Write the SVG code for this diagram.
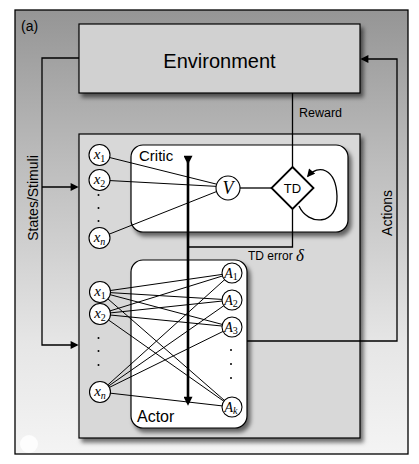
<svg xmlns="http://www.w3.org/2000/svg" width="419" height="464" viewBox="0 0 419 464">
<style>
.sans{font-family:"Liberation Sans",Arial,sans-serif;fill:#000}
.math{font-family:"Liberation Serif","Times New Roman",serif;font-style:italic;fill:#000}
.sub{font-size:10px}
.ln{stroke:#000;stroke-width:1;fill:none}
.cn{stroke:#000;stroke-width:1.3;fill:none}
.node{fill:#fff;stroke:#000;stroke-width:1.1}
.dot{fill:#000}
</style>
<defs>
<linearGradient id="bg" x1="0" y1="0" x2="0" y2="1">
<stop offset="0" stop-color="#959595"/>
<stop offset="0.35" stop-color="#bdbdbd"/>
<stop offset="0.75" stop-color="#e6e6e6"/>
<stop offset="1" stop-color="#f4f4f4"/>
</linearGradient>
<filter id="sh" x="-10%" y="-10%" width="130%" height="130%">
<feDropShadow dx="3" dy="4" stdDeviation="2" flood-color="#000" flood-opacity="0.55"/>
</filter>
<marker id="arr" viewBox="0 0 10 10" refX="8" refY="5" markerWidth="10" markerHeight="8" markerUnits="userSpaceOnUse" orient="auto">
<path d="M0,0 L10,5 L0,10 z" fill="#000"/>
</marker>
<marker id="arrT" viewBox="0 0 10 10" refX="7" refY="5" markerWidth="12" markerHeight="9" markerUnits="userSpaceOnUse" orient="auto">
<path d="M0,0 L10,5 L0,10 z" fill="#000"/>
</marker>
</defs>

<g id="frame">
<rect x="15" y="10" width="393" height="444" fill="url(#bg)" stroke="#000" stroke-width="1.3"/>
<circle cx="29" cy="444" r="9" fill="#fff" opacity="0.8"/>
<text class="sans" x="21" y="31" font-size="14">(a)</text>
</g>

<g id="environment">
<rect x="79" y="24" width="281" height="69" fill="#d1d1d1" stroke="#000" stroke-width="1.2" filter="url(#sh)"/>
<text class="sans" x="219.5" y="68" font-size="20" text-anchor="middle">Environment</text>
</g>

<g id="agent">
<rect x="79" y="134" width="281" height="304" fill="#d8d8d8" stroke="#000" stroke-width="1.2" filter="url(#sh)"/>
</g>

<g id="critic">
<rect x="131" y="145" width="217" height="87" rx="12" fill="#fff" stroke="#000" stroke-width="1.2" filter="url(#sh)"/>
<text class="sans" x="139" y="161" font-size="15">Critic</text>
</g>

<g id="actor">
<rect x="131" y="260" width="116" height="168" rx="12" fill="#fff" stroke="#000" stroke-width="1.2" filter="url(#sh)"/>
<text class="sans" x="137" y="422" font-size="16">Actor</text>
</g>

<g id="connectors">
<!-- critic feature lines -->
<line class="ln" x1="99.5" y1="155" x2="228" y2="187"/>
<line class="ln" x1="99.5" y1="180" x2="228" y2="187"/>
<line class="ln" x1="99.5" y1="238" x2="228" y2="187"/>
<!-- actor feature lines -->
<line class="ln" x1="100" y1="292" x2="232" y2="273"/>
<line class="ln" x1="100" y1="292" x2="232" y2="300"/>
<line class="ln" x1="100" y1="292" x2="232" y2="327"/>
<line class="ln" x1="100" y1="292" x2="232" y2="407"/>
<line class="ln" x1="100" y1="314" x2="232" y2="273"/>
<line class="ln" x1="100" y1="314" x2="232" y2="300"/>
<line class="ln" x1="100" y1="314" x2="232" y2="327"/>
<line class="ln" x1="100" y1="314" x2="232" y2="407"/>
<line class="ln" x1="100" y1="392" x2="232" y2="273"/>
<line class="ln" x1="100" y1="392" x2="232" y2="300"/>
<line class="ln" x1="100" y1="392" x2="232" y2="327"/>
<line class="ln" x1="100" y1="392" x2="232" y2="407"/>
<!-- V to TD -->
<line class="cn" x1="240" y1="188" x2="272" y2="188" stroke-width="1.5"/>
<!-- reward -->
<line class="cn" x1="292.5" y1="93" x2="292.5" y2="167"/>
<text class="sans" x="299" y="117" font-size="12.5">Reward</text>
<!-- TD self loop -->
<path class="cn" d="M299,206 C308,226 338,226 337,196 C336,168 318,164 308,176" marker-end="url(#arr)"/>
<!-- TD error -->
<polyline class="cn" points="292.5,209 292.5,247 188,247"/>
<text class="sans" x="248" y="260" font-size="12">TD error</text>
<text class="math" x="296" y="261" font-size="17">δ</text>
<!-- thick bidirectional line -->
<line x1="188" y1="162" x2="188" y2="403" stroke="#000" stroke-width="2.6" marker-start="url(#arrT)" marker-end="url(#arrT)"/>
<!-- actions -->
<polyline class="cn" points="247,341 397,341 397,59 362,59" marker-end="url(#arr)"/>
<text class="sans" transform="translate(392,213) rotate(-90)" font-size="14" text-anchor="middle">Actions</text>
<!-- states -->
<polyline class="cn" points="79,58 42,58 42,345 77,345" marker-end="url(#arr)"/>
<line class="cn" x1="42" y1="187" x2="77" y2="187" marker-end="url(#arr)"/>
<text class="sans" transform="translate(38,198) rotate(-90)" font-size="14" text-anchor="middle">States/Stimuli</text>
</g>

<g id="critic-nodes">
<circle class="node" cx="99.5" cy="155" r="10.5"/>
<text class="math" x="99.5" y="159" font-size="15" text-anchor="middle">x<tspan class="sub" font-style="normal" dy="3">1</tspan></text>
<circle class="node" cx="99.5" cy="180" r="10.5"/>
<text class="math" x="99.5" y="184" font-size="15" text-anchor="middle">x<tspan class="sub" font-style="normal" dy="3">2</tspan></text>
<circle class="dot" cx="98.5" cy="195" r="1"/>
<circle class="dot" cx="98.5" cy="208" r="1"/>
<circle class="dot" cx="98.5" cy="221" r="1"/>
<circle class="node" cx="99.5" cy="238" r="10.5"/>
<text class="math" x="99.5" y="242" font-size="15" text-anchor="middle">x<tspan class="sub" dy="3">n</tspan></text>
</g>

<g id="V">
<circle class="node" cx="228" cy="188" r="12" stroke-width="1.4"/>
<text class="math" x="228" y="194" font-size="18" text-anchor="middle">V</text>
</g>

<g id="TD">
<polygon points="292.5,167 313.5,188 292.5,209 271.5,188" fill="#fff" stroke="#000" stroke-width="1.8"/>
<text class="sans" x="292.5" y="193" font-size="13" text-anchor="middle">TD</text>
</g>

<g id="actor-inputs">
<circle class="node" cx="100" cy="292" r="10.5"/>
<text class="math" x="100" y="296" font-size="15" text-anchor="middle">x<tspan class="sub" font-style="normal" dy="3">1</tspan></text>
<circle class="node" cx="100" cy="314" r="10.5"/>
<text class="math" x="100" y="318" font-size="15" text-anchor="middle">x<tspan class="sub" font-style="normal" dy="3">2</tspan></text>
<circle class="dot" cx="98.5" cy="338" r="1"/>
<circle class="dot" cx="98.5" cy="351" r="1"/>
<circle class="dot" cx="98.5" cy="365" r="1"/>
<circle class="node" cx="100" cy="392" r="10.5"/>
<text class="math" x="100" y="396" font-size="15" text-anchor="middle">x<tspan class="sub" dy="3">n</tspan></text>
</g>

<g id="actor-outputs">
<circle class="node" cx="232" cy="273" r="10"/>
<text class="math" x="231" y="278" font-size="14" text-anchor="middle">A<tspan class="sub" font-style="normal" font-size="9" dy="2">1</tspan></text>
<circle class="node" cx="232" cy="300" r="10"/>
<text class="math" x="231" y="305" font-size="14" text-anchor="middle">A<tspan class="sub" font-style="normal" font-size="9" dy="2">2</tspan></text>
<circle class="node" cx="232" cy="327" r="10"/>
<text class="math" x="231" y="332" font-size="14" text-anchor="middle">A<tspan class="sub" font-style="normal" font-size="9" dy="2">3</tspan></text>
<circle class="dot" cx="231" cy="350" r="1"/>
<circle class="dot" cx="231" cy="364" r="1"/>
<circle class="dot" cx="231" cy="378" r="1"/>
<circle class="node" cx="232" cy="407" r="10"/>
<text class="math" x="231" y="412" font-size="14" text-anchor="middle">A<tspan class="sub" font-size="9" dy="2">k</tspan></text>
</g>
</svg>
